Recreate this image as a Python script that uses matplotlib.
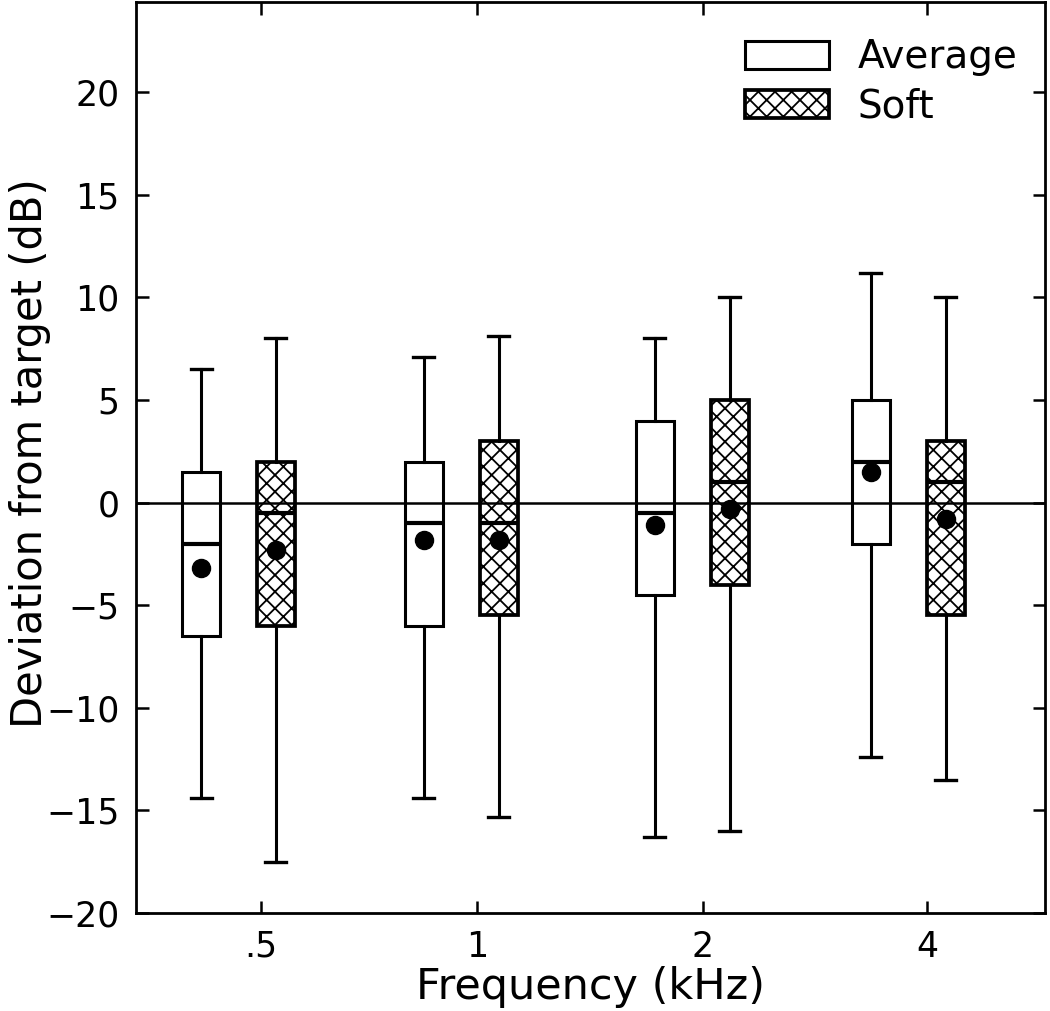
import matplotlib
matplotlib.use('Agg')
import matplotlib.pyplot as plt
from matplotlib.patches import Patch

plt.rcParams['font.family'] = ['DejaVu Sans']
plt.rcParams['hatch.linewidth'] = 1.3

freq_labels = ['.5', '1', '2', '4']

# Average input level
avg_lo = [-14.4, -14.4, -16.3, -12.4]
avg_q1 = [-6.5, -6.0, -4.5, -2.0]
avg_med = [-2.0, -1.0, -0.5, 2.0]
avg_q3 = [1.5, 2.0, 4.0, 5.0]
avg_hi = [6.5, 7.1, 8.0, 11.2]
avg_mean = [-3.2, -1.8, -1.1, 1.5]

# Soft input level
soft_lo = [-17.5, -15.3, -16.0, -13.5]
soft_q1 = [-6.0, -5.5, -4.0, -5.5]
soft_med = [-0.5, -1.0, 1.0, 1.0]
soft_q3 = [2.0, 3.0, 5.0, 3.0]
soft_hi = [8.0, 8.1, 10.0, 10.0]
soft_mean = [-2.3, -1.8, -0.3, -0.8]

# layout
tick_pos = [0.0, 0.956, 1.956, 2.947]
avg_pos = [-0.265, 0.721, 1.743, 2.699]
soft_pos = [p + 0.331 for p in avg_pos]
box_w = 0.168
cap_w = 0.093


def make_stats(lo, q1, med, q3, hi, mean):
    return [dict(whislo=a, q1=b, med=c, q3=d, whishi=e, mean=f, fliers=[])
            for a, b, c, d, e, f in zip(lo, q1, med, q3, hi, mean)]


fig = plt.figure(figsize=(10.5, 10.11), dpi=100)
ax = fig.add_axes([0.1295, 0.097, 0.8657, 0.901])

common = dict(widths=box_w, capwidths=cap_w, patch_artist=True,
              showmeans=True, manage_ticks=False,
              whiskerprops=dict(color='black', linewidth=2.2),
              capprops=dict(color='black', linewidth=2.4),
              medianprops=dict(color='black', linewidth=3.0),
              meanprops=dict(marker='o', markerfacecolor='black',
                             markeredgecolor='black', markersize=13))

ax.bxp(make_stats(avg_lo, avg_q1, avg_med, avg_q3, avg_hi, avg_mean),
       positions=avg_pos,
       boxprops=dict(facecolor='none', edgecolor='black', linewidth=2.2),
       **common)
ax.bxp(make_stats(soft_lo, soft_q1, soft_med, soft_q3, soft_hi, soft_mean),
       positions=soft_pos,
       boxprops=dict(facecolor='none', edgecolor='black', linewidth=2.7,
                     hatch='xx'),
       **common)

ax.axhline(0, color='black', linewidth=1.8, zorder=4)

ax.set_xlim(-0.553, 3.469)
ax.set_ylim(-20, 24.4)
ax.set_xticks(tick_pos)
ax.set_xticklabels(freq_labels)
ax.set_yticks(range(-20, 21, 5))
ax.tick_params(direction='in', length=9, width=1.8, labelsize=25,
               top=True, right=True, pad=12)
for s in ax.spines.values():
    s.set_linewidth(2.0)

ax.set_xlabel('Frequency (kHz)', fontsize=31, labelpad=2)
ax.set_ylabel('Deviation from target (dB)', fontsize=30)
ax.yaxis.set_label_coords(-0.094, 0.505)

handles = [Patch(facecolor='none', edgecolor='black', linewidth=2.2),
           Patch(facecolor='none', edgecolor='black', linewidth=2.7,
                 hatch='xx')]
ax.legend(handles, ['Average', 'Soft'], loc='upper right', frameon=False,
          fontsize=28, handlelength=2.15, handleheight=0.72,
          handletextpad=0.75, labelspacing=0.28, borderpad=0.2,
          bbox_to_anchor=(1.0, 0.99))

fig.savefig('out.png', dpi=100)
